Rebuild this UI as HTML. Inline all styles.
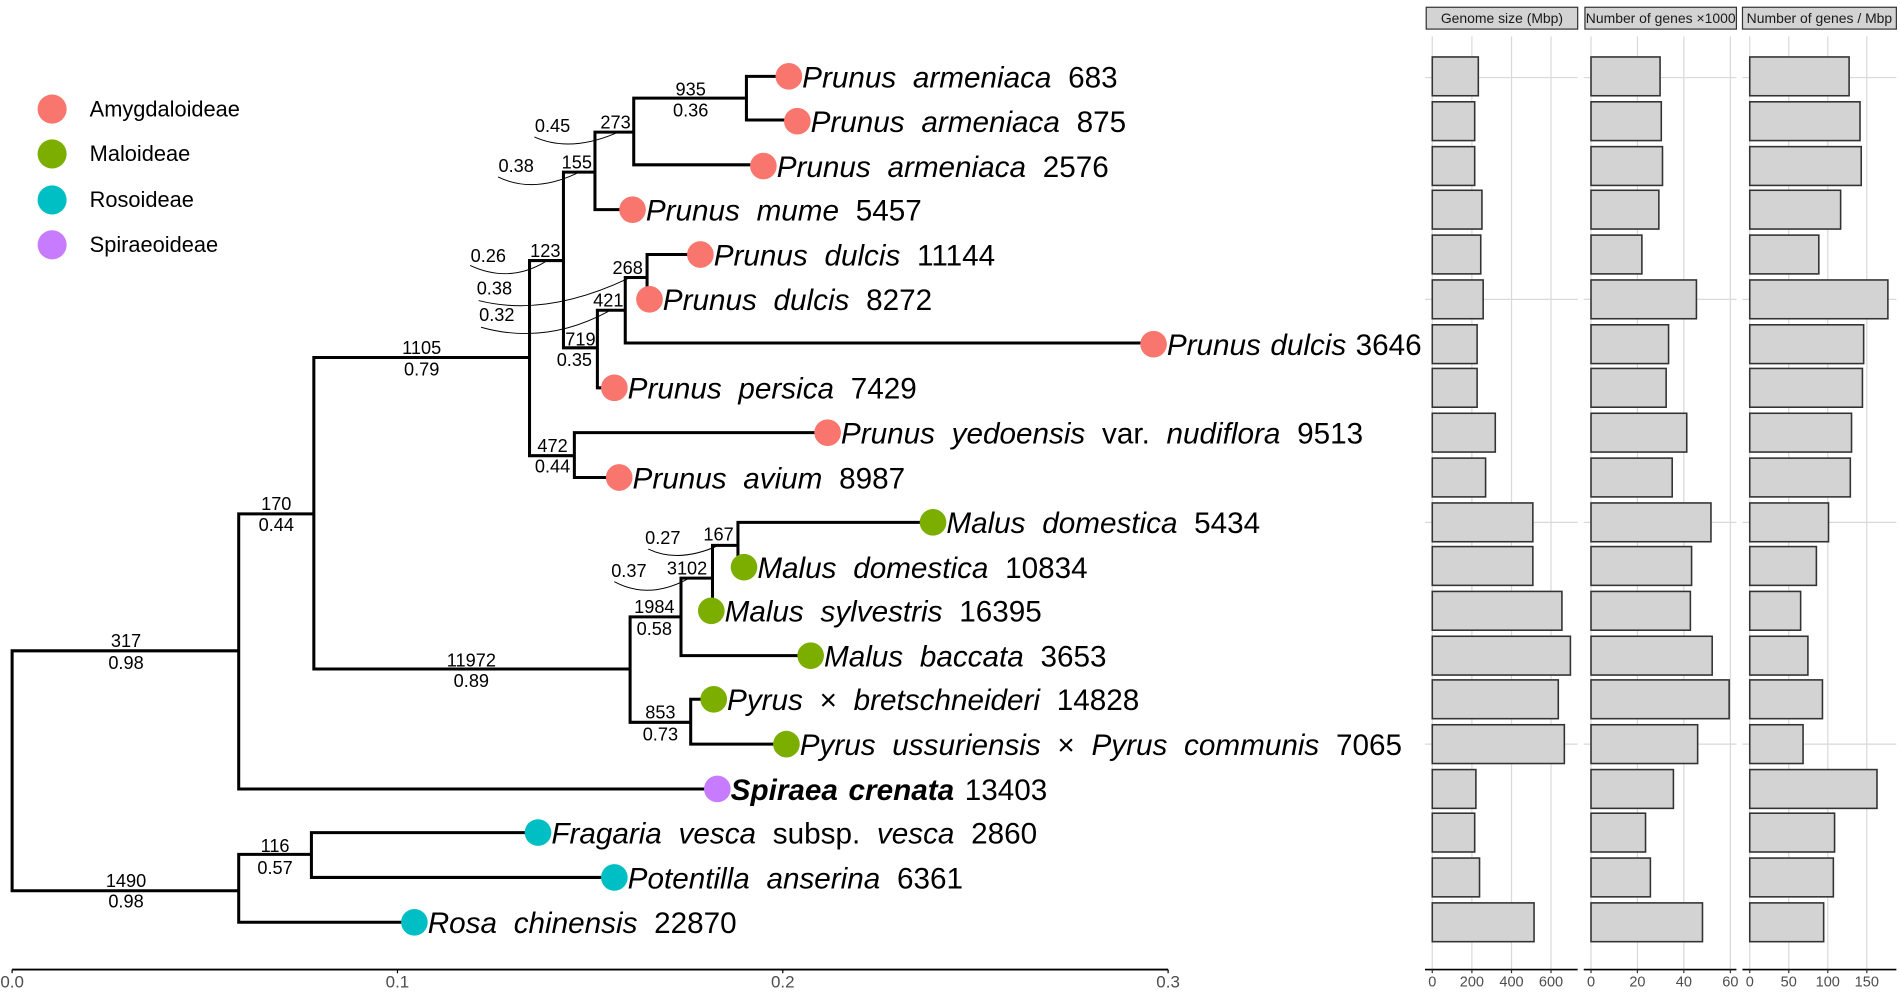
<!DOCTYPE html>
<html><head><meta charset="utf-8"><style>
html,body{margin:0;padding:0;background:#fff;}
svg{display:block;}
text{font-family:"Liberation Sans",Arial,sans-serif;}
.sp{font-size:24.5px;fill:#000;word-spacing:7px;}
.lb{font-size:15px;fill:#000;text-anchor:middle;}
.ax{font-size:14px;fill:#4d4d4d;text-anchor:middle;}
</style></head><body>
<svg width="1900" height="995" viewBox="0 0 1568 821" preserveAspectRatio="none" xmlns="http://www.w3.org/2000/svg">
<rect width="1568" height="821" fill="#fff"/>
<circle cx="43" cy="90" r="12" fill="#F8766D"/><text x="74" y="96" font-size="18">Amygdaloideae</text>
<circle cx="43" cy="127" r="12" fill="#7CAE00"/><text x="74" y="133" font-size="18">Maloideae</text>
<circle cx="43" cy="165" r="12" fill="#00BFC4"/><text x="74" y="171" font-size="18">Rosoideae</text>
<circle cx="43" cy="202" r="12" fill="#C77CFF"/><text x="74" y="208" font-size="18">Spiraeoideae</text>

<g stroke="#000" stroke-width="2.5" fill="none" stroke-linecap="square">
<path d="M10 537V735 M10 537H197 M197 424V651 M197 424H259 M259 295V552 M259 295H437 M437 215V376
M437 215H465 M465 142V287 M465 142H491 M491 109V173 M491 173H522 M491 109H523 M523 81V136 M523 136H630 M523 81H616 M616 63V99 M616 63H651 M616 99H658
M465 287H493 M493 256V320 M493 320H507 M493 256H516 M516 229V283 M516 283H952 M516 229H534 M534 210V247 M534 210H578 M534 247H536
M437 376H474 M474 357V394 M474 357H683 M474 394H511
M259 552H520 M520 509V596 M520 509H562 M562 477V541 M562 541H669 M562 477H588 M588 450V504 M588 450H609 M609 431V468 M609 431H770 M609 468H614 M588 504H587
M520 596H570 M570 577V614 M570 577H589 M570 614H649
M197 651H592
M10 735H197 M197 705V761 M197 761H342 M197 705H257 M257 687V724 M257 687H444 M257 724H507"/>
</g>
<g stroke="#000" stroke-width="0.8" fill="none">
<path d="M441 113 Q470 126 508 110"/>
<path d="M411 146 Q440 160 476 143"/>
<path d="M388 219 Q420 234 450 216"/>
<path d="M395 248 Q450 262 518 230"/>
<path d="M397 270 Q450 285 502 257"/>
<path d="M535 453 Q560 465 593 450"/>
<path d="M507 480 Q535 495 567 478"/>
</g>
<g class="lb">
<text x="104" y="534">317</text><text x="104" y="552">0.98</text>
<text x="104" y="732">1490</text><text x="104" y="749">0.98</text>
<text x="228" y="421">170</text><text x="228" y="438">0.44</text>
<text x="227" y="703">116</text><text x="227" y="721">0.57</text>
<text x="348" y="292">1105</text><text x="348" y="310">0.79</text>
<text x="389" y="550">11972</text><text x="389" y="567">0.89</text>
<text x="456" y="373">472</text><text x="456" y="390">0.44</text>
<text x="479" y="285">719</text><text x="474" y="302">0.35</text>
<text x="540" y="506">1984</text><text x="540" y="524">0.58</text>
<text x="545" y="593">853</text><text x="545" y="611">0.73</text>
<text x="570" y="79">935</text><text x="570" y="96">0.36</text>
<text x="456" y="109">0.45</text><text x="508" y="106">273</text>
<text x="426" y="142">0.38</text><text x="476" y="139">155</text>
<text x="403" y="216">0.26</text><text x="450" y="212">123</text>
<text x="408" y="243">0.38</text><text x="518" y="226">268</text>
<text x="410" y="265">0.32</text><text x="502" y="253">421</text>
<text x="547" y="449">0.27</text><text x="593" y="446">167</text>
<text x="519" y="476">0.37</text><text x="567" y="474">3102</text>
</g>
<g>
<circle cx="651" cy="63" r="11" fill="#F8766D"/><text class="sp" x="662" y="72"><tspan font-style="italic">Prunus armeniaca</tspan> 683</text>
<circle cx="658" cy="100" r="11" fill="#F8766D"/><text class="sp" x="669" y="109"><tspan font-style="italic">Prunus armeniaca</tspan> 875</text>
<circle cx="630" cy="137" r="11" fill="#F8766D"/><text class="sp" x="641" y="146"><tspan font-style="italic">Prunus armeniaca</tspan> 2576</text>
<circle cx="522" cy="173" r="11" fill="#F8766D"/><text class="sp" x="533" y="182"><tspan font-style="italic">Prunus mume</tspan> 5457</text>
<circle cx="578" cy="210" r="11" fill="#F8766D"/><text class="sp" x="589" y="219"><tspan font-style="italic">Prunus dulcis</tspan> 11144</text>
<circle cx="536" cy="247" r="11" fill="#F8766D"/><text class="sp" x="547" y="256"><tspan font-style="italic">Prunus dulcis</tspan> 8272</text>
<circle cx="952" cy="284" r="11" fill="#F8766D"/><text class="sp" x="963" y="293" style="word-spacing:1px"><tspan font-style="italic">Prunus dulcis</tspan> 3646</text>
<circle cx="507" cy="320" r="11" fill="#F8766D"/><text class="sp" x="518" y="329"><tspan font-style="italic">Prunus persica</tspan> 7429</text>
<circle cx="683" cy="357" r="11" fill="#F8766D"/><text class="sp" x="694" y="366"><tspan font-style="italic">Prunus yedoensis</tspan> var. <tspan font-style="italic">nudiflora</tspan> 9513</text>
<circle cx="511" cy="394" r="11" fill="#F8766D"/><text class="sp" x="522" y="403"><tspan font-style="italic">Prunus avium</tspan> 8987</text>
<circle cx="770" cy="431" r="11" fill="#7CAE00"/><text class="sp" x="781" y="440"><tspan font-style="italic">Malus domestica</tspan> 5434</text>
<circle cx="614" cy="468" r="11" fill="#7CAE00"/><text class="sp" x="625" y="477"><tspan font-style="italic">Malus domestica</tspan> 10834</text>
<circle cx="587" cy="504" r="11" fill="#7CAE00"/><text class="sp" x="598" y="513"><tspan font-style="italic">Malus sylvestris</tspan> 16395</text>
<circle cx="669" cy="541" r="11" fill="#7CAE00"/><text class="sp" x="680" y="550"><tspan font-style="italic">Malus baccata</tspan> 3653</text>
<circle cx="589" cy="577" r="11" fill="#7CAE00"/><text class="sp" x="600" y="586"><tspan font-style="italic">Pyrus</tspan> × <tspan font-style="italic">bretschneideri</tspan> 14828</text>
<circle cx="649" cy="614" r="11" fill="#7CAE00"/><text class="sp" x="660" y="623"><tspan font-style="italic">Pyrus ussuriensis</tspan> × <tspan font-style="italic">Pyrus communis</tspan> 7065</text>
<circle cx="592" cy="651" r="11" fill="#C77CFF"/><text class="sp" x="603" y="660" style="word-spacing:2px"><tspan font-style="italic" font-weight="bold">Spiraea crenata</tspan> 13403</text>
<circle cx="444" cy="687" r="11" fill="#00BFC4"/><text class="sp" x="455" y="696"><tspan font-style="italic">Fragaria vesca</tspan> subsp. <tspan font-style="italic">vesca</tspan> 2860</text>
<circle cx="507" cy="724" r="11" fill="#00BFC4"/><text class="sp" x="518" y="733"><tspan font-style="italic">Potentilla anserina</tspan> 6361</text>
<circle cx="342" cy="761" r="11" fill="#00BFC4"/><text class="sp" x="353" y="770"><tspan font-style="italic">Rosa chinensis</tspan> 22870</text>
</g>
<line x1="10" y1="800" x2="964" y2="800" stroke="#000" stroke-width="1.5"/>
<g stroke="#000" stroke-width="1"><line x1="10" y1="800" x2="10" y2="803"/><line x1="328" y1="800" x2="328" y2="803"/><line x1="646" y1="800" x2="646" y2="803"/><line x1="964" y1="800" x2="964" y2="803"/></g>
<g class="ax"><text x="10" y="815">0.0</text><text x="328" y="815">0.1</text><text x="646" y="815">0.2</text><text x="964" y="815">0.3</text></g>

<g>
<g stroke="#d9d9d9" stroke-width="1">
<path d="M1176 64H1302 M1176 247H1302 M1176 431H1302 M1176 614H1302
M1307 64H1433 M1307 247H1433 M1307 431H1433 M1307 614H1433
M1438 64H1565 M1438 247H1565 M1438 431H1565 M1438 614H1565"/>
<path d="M1182 30V800 M1214.7 30V800 M1247.4 30V800 M1280 30V800
M1313 30V800 M1351.3 30V800 M1389.6 30V800 M1428 30V800
M1444 30V800 M1476.2 30V800 M1508.4 30V800 M1540.6 30V800"/>
</g>
<g fill="#d3d3d3" stroke="#333" stroke-width="1">
<rect x="1177" y="6" width="125" height="18"/>
<rect x="1308" y="6" width="125" height="18"/>
<rect x="1438" y="6" width="127" height="18"/>
</g>
<g font-size="11.5" fill="#1a1a1a" text-anchor="middle">
<text x="1239.5" y="19">Genome size (Mbp)</text>
<text x="1370.5" y="19">Number of genes ×1000</text>
<text x="1501.5" y="19">Number of genes / Mbp</text>
</g>
<g fill="#d3d3d3" stroke="#333" stroke-width="1.3">
<rect x="1182" y="47" width="38" height="32"/><rect x="1313" y="47" width="57" height="32"/><rect x="1444" y="47" width="82" height="32"/>
<rect x="1182" y="84" width="35" height="32"/><rect x="1313" y="84" width="58" height="32"/><rect x="1444" y="84" width="91" height="32"/>
<rect x="1182" y="121" width="35" height="32"/><rect x="1313" y="121" width="59" height="32"/><rect x="1444" y="121" width="92" height="32"/>
<rect x="1182" y="157" width="41" height="32"/><rect x="1313" y="157" width="56" height="32"/><rect x="1444" y="157" width="75" height="32"/>
<rect x="1182" y="194" width="40" height="32"/><rect x="1313" y="194" width="42" height="32"/><rect x="1444" y="194" width="57" height="32"/>
<rect x="1182" y="231" width="42" height="32"/><rect x="1313" y="231" width="87" height="32"/><rect x="1444" y="231" width="114" height="32"/>
<rect x="1182" y="268" width="37" height="32"/><rect x="1313" y="268" width="64" height="32"/><rect x="1444" y="268" width="94" height="32"/>
<rect x="1182" y="304" width="37" height="32"/><rect x="1313" y="304" width="62" height="32"/><rect x="1444" y="304" width="93" height="32"/>
<rect x="1182" y="341" width="52" height="32"/><rect x="1313" y="341" width="79" height="32"/><rect x="1444" y="341" width="84" height="32"/>
<rect x="1182" y="378" width="44" height="32"/><rect x="1313" y="378" width="67" height="32"/><rect x="1444" y="378" width="83" height="32"/>
<rect x="1182" y="415" width="83" height="32"/><rect x="1313" y="415" width="99" height="32"/><rect x="1444" y="415" width="65" height="32"/>
<rect x="1182" y="451" width="83" height="32"/><rect x="1313" y="451" width="83" height="32"/><rect x="1444" y="451" width="55" height="32"/>
<rect x="1182" y="488" width="107" height="32"/><rect x="1313" y="488" width="82" height="32"/><rect x="1444" y="488" width="42" height="32"/>
<rect x="1182" y="525" width="114" height="32"/><rect x="1313" y="525" width="100" height="32"/><rect x="1444" y="525" width="48" height="32"/>
<rect x="1182" y="561" width="104" height="32"/><rect x="1313" y="561" width="114" height="32"/><rect x="1444" y="561" width="60" height="32"/>
<rect x="1182" y="598" width="109" height="32"/><rect x="1313" y="598" width="88" height="32"/><rect x="1444" y="598" width="44" height="32"/>
<rect x="1182" y="635" width="36" height="32"/><rect x="1313" y="635" width="68" height="32"/><rect x="1444" y="635" width="105" height="32"/>
<rect x="1182" y="671" width="35" height="32"/><rect x="1313" y="671" width="45" height="32"/><rect x="1444" y="671" width="70" height="32"/>
<rect x="1182" y="708" width="39" height="32"/><rect x="1313" y="708" width="49" height="32"/><rect x="1444" y="708" width="69" height="32"/>
<rect x="1182" y="745" width="84" height="32"/><rect x="1313" y="745" width="92" height="32"/><rect x="1444" y="745" width="61" height="32"/>
</g>
<g stroke="#000" stroke-width="1.3"><path d="M1176 800H1302 M1307 800H1433 M1438 800H1565"/></g>
<g stroke="#333" stroke-width="1"><path d="M1182 800V803 M1214.7 800V803 M1247.4 800V803 M1280 800V803 M1313 800V803 M1351.3 800V803 M1389.6 800V803 M1428 800V803 M1444 800V803 M1476.2 800V803 M1508.4 800V803 M1540.6 800V803"/></g>
<g font-size="12" fill="#4d4d4d" text-anchor="middle">
<text x="1182" y="814">0</text><text x="1214.7" y="814">200</text><text x="1247.4" y="814">400</text><text x="1280" y="814">600</text>
<text x="1313" y="814">0</text><text x="1351.3" y="814">20</text><text x="1389.6" y="814">40</text><text x="1428" y="814">60</text>
<text x="1444" y="814">0</text><text x="1476.2" y="814">50</text><text x="1508.4" y="814">100</text><text x="1540.6" y="814">150</text>
</g>
</g>
</svg>
</body></html>
